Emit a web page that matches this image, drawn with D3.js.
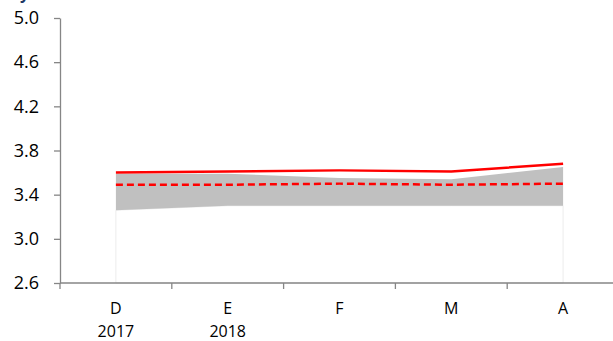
<!DOCTYPE html>
<html>
<head>
<meta charset="utf-8">
<script src="https://cdn.jsdelivr.net/npm/d3@7"></script>
<style>
  body { margin: 0; background: #fff; }
  svg { display: block; }
</style>
</head>
<body>
<svg width="613" height="341"></svg>
<script>
// data
var months = ["D", "E", "F", "M", "A"];
var years = ["2017", "2018", "", "", ""];
var yTicks = [2.6, 3.0, 3.4, 3.8, 4.2, 4.6, 5.0];

var actual = [3.60, 3.61, 3.62, 3.61, 3.68];   // solid red
var average = [3.49, 3.49, 3.50, 3.49, 3.50];  // dashed red
var rangeLow = [3.26, 3.30, 3.30, 3.30, 3.30];
var rangeHigh = [3.59, 3.59, 3.55, 3.54, 3.65];

var rows = months.map((m, i) => ({
    m: m, y: years[i], actual: actual[i], average: average[i],
    low: rangeLow[i], high: rangeHigh[i]
}));

var plotLeft = 60, plotTop = 18, plotBottom = 283;
var band = 111.8;

var svg = d3.select("svg")
    .style("font-family", "'Open Sans', 'Noto Sans', sans-serif");

var x = d3.scaleBand()
    .domain(months)
    .range([plotLeft, plotLeft + band * months.length]);

var y = d3.scaleLinear()
    .domain([2.6, 5.0])
    .range([plotBottom, plotTop]);

var cx = d => x(d.m) + x.bandwidth() / 2;

// white lower part of the stack, faint edges
svg.append("path")
    .datum(rows)
    .attr("fill", "#fff")
    .attr("stroke", "#ececec")
    .attr("stroke-width", 1)
    .attr("d", d3.area().x(cx).y0(y(2.6)).y1(d => y(d.low)));

// grey range band
svg.append("path")
    .datum(rows)
    .attr("fill", "#c0c0c0")
    .attr("d", d3.area().x(cx).y0(d => y(d.low)).y1(d => y(d.high)));

// dashed average
svg.append("path")
    .datum(rows)
    .attr("fill", "none")
    .attr("stroke", "#ff0000")
    .attr("stroke-width", 2.5)
    .attr("stroke-dasharray", "7,4")
    .attr("d", d3.line().x(cx).y(d => y(d.average)));

// solid line
svg.append("path")
    .datum(rows)
    .attr("fill", "none")
    .attr("stroke", "#ff0000")
    .attr("stroke-width", 2.5)
    .attr("d", d3.line().x(cx).y(d => y(d.actual)));

// y axis
var yAxis = svg.append("g")
    .attr("transform", `translate(${plotLeft},0)`)
    .call(d3.axisLeft(y).tickValues(yTicks).tickFormat(d3.format(".1f")).tickSize(6).tickSizeOuter(0));
yAxis.select(".domain").attr("stroke", "#868686").attr("stroke-width", 1.3);
yAxis.selectAll(".tick line").attr("stroke", "#868686").attr("stroke-width", 1.3);
yAxis.selectAll(".tick text")
    .attr("x", -21)
    .attr("font-size", 18)
    .attr("fill", "#000")
    .attr("font-family", "'Open Sans', sans-serif");

// x axis line and boundary ticks
svg.append("line")
    .attr("x1", plotLeft).attr("x2", plotLeft + band * months.length)
    .attr("y1", plotBottom).attr("y2", plotBottom)
    .attr("stroke", "#868686").attr("stroke-width", 1.3);

svg.append("g")
    .selectAll("line")
    .data(months)
    .join("line")
    .attr("x1", d => x(d)).attr("x2", d => x(d))
    .attr("y1", plotBottom).attr("y2", plotBottom + 6)
    .attr("stroke", "#868686").attr("stroke-width", 1.3);

svg.append("g")
    .selectAll("text")
    .data(rows)
    .join("text")
    .attr("x", cx)
    .attr("y", 314)
    .attr("text-anchor", "middle")
    .attr("font-size", 16)
    .text(d => d.m);

svg.append("g")
    .selectAll("text")
    .data(rows)
    .join("text")
    .attr("x", cx)
    .attr("y", 337)
    .attr("text-anchor", "middle")
    .attr("font-size", 16)
    .text(d => d.y);

// clipped title glyph at the top left
svg.append("text")
    .attr("x", 20)
    .attr("y", -1)
    .attr("font-size", 16)
    .attr("font-weight", "bold")
    .attr("fill", "#1f3864")
    .text("y");
</script>
</body>
</html>
